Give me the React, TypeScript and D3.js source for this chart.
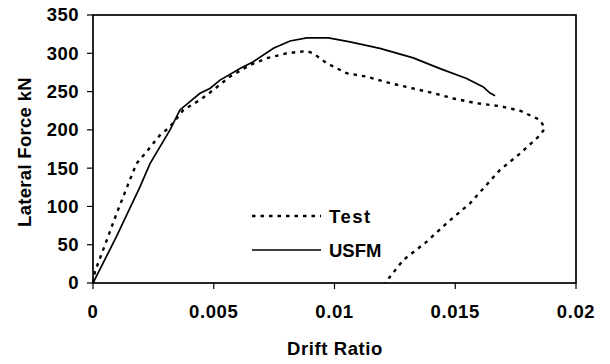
import React from "react";
import * as d3 from "d3";

const xTicks = [0, 0.005, 0.01, 0.015, 0.02];
const xTickLabels = ["0", "0.005", "0.01", "0.015", "0.02"];
const yTicks = [0, 50, 100, 150, 200, 250, 300, 350];

const usfmX = [0, 0.00097, 0.00195, 0.00236, 0.00319, 0.0036, 0.00443, 0.00484, 0.00526, 0.00609, 0.00664, 0.00747, 0.00816, 0.00885, 0.00975, 0.01064, 0.01188, 0.01326, 0.01437, 0.01547, 0.01616, 0.01644, 0.01665];
const usfmY = [0, 60.5, 125.8, 156, 200, 226, 247.7, 254, 265, 280, 289, 306.5, 316, 320, 320, 315, 306.5, 294, 280, 267, 256, 248, 244.6];

const testX = [0, 0.00008, 0.00057, 0.00098, 0.00133, 0.0018, 0.00222, 0.00277, 0.00319, 0.00374, 0.00443, 0.00498, 0.00567, 0.0065, 0.00719, 0.00802, 0.00885, 0.00912, 0.00968, 0.0105, 0.01133, 0.0123, 0.01326, 0.0141, 0.01492, 0.01589, 0.01685, 0.01768, 0.01851, 0.01871, 0.01851, 0.01768, 0.01685, 0.01561, 0.01464, 0.01382, 0.01285, 0.01209];
const testY = [0, 14.8, 56, 91, 119, 156, 171.5, 193, 204, 226, 239, 252, 269.5, 284.7, 293.5, 300, 303, 300, 287, 274, 269.5, 261, 254, 248, 241, 234.7, 231, 225, 213, 202, 193, 169, 147.6, 104, 78, 54, 30, 0];

const seriesNames = ["Test", "USFM"];

export default function App() {
  const left = 93, right = 576, top = 15, bottom = 283;
  const x = d3.scaleLinear().domain([0, 0.02]).range([left, right]);
  const y = d3.scaleLinear().domain([0, 350]).range([bottom, top]);
  const line = d3.line<[number, number]>().x(d => x(d[0])).y(d => y(d[1]));
  const usfm = line(usfmX.map((v, i) => [v, usfmY[i]] as [number, number])) || "";
  const test = line(testX.map((v, i) => [v, testY[i]] as [number, number])) || "";
  const font = "'Liberation Sans', Arial, sans-serif";
  const fs = 18.5;

  return (
    <svg width={610} height={364} style={{ position: "absolute", left: 0, top: 0, background: "#fff" }} fontFamily={font}>
      <rect x={0} y={0} width={610} height={364} fill="#fff" />
      <path d={test} fill="none" stroke="#000" strokeWidth={2.4} strokeDasharray="3.5,5" />
      <path d={usfm} fill="none" stroke="#000" strokeWidth={1.7} />
      <rect x={left} y={top} width={right - left} height={bottom - top} fill="none" stroke="#000" strokeWidth={1.7} />
      {yTicks.map(t => (
        <g key={"y" + t}>
          <line x1={left - 6} x2={left} y1={y(t)} y2={y(t)} stroke="#000" strokeWidth={1.2} />
          <text x={79} y={y(t)} dy="0.35em" textAnchor="end" fontSize={fs} fontWeight="bold" letterSpacing={0.5}>{t}</text>
        </g>
      ))}
      {xTicks.map((t, i) => (
        <g key={"x" + t}>
          <line x1={x(t)} x2={x(t)} y1={bottom} y2={bottom + 6} stroke="#000" strokeWidth={1.2} />
          <text x={x(t)} y={318} textAnchor="middle" fontSize={fs} fontWeight="bold" letterSpacing={0.6}>{xTickLabels[i]}</text>
        </g>
      ))}
      <text x={335} y={355} textAnchor="middle" fontSize={fs} fontWeight="bold" letterSpacing={0.6}>Drift Ratio</text>
      <text transform="translate(31,152) rotate(-90)" textAnchor="middle" fontSize={fs} fontWeight="bold" letterSpacing={0.3}>Lateral Force kN</text>
      <line x1={252} x2={321} y1={216} y2={216} stroke="#000" strokeWidth={2.4} strokeDasharray="3.5,5" />
      <text x={329} y={222.5} fontSize={fs} fontWeight="bold" letterSpacing={1.5}>{seriesNames[0]}</text>
      <line x1={252} x2={321} y1={250} y2={250} stroke="#000" strokeWidth={1.7} />
      <text x={329} y={257} fontSize={fs} fontWeight="bold">{seriesNames[1]}</text>
    </svg>
  );
}
